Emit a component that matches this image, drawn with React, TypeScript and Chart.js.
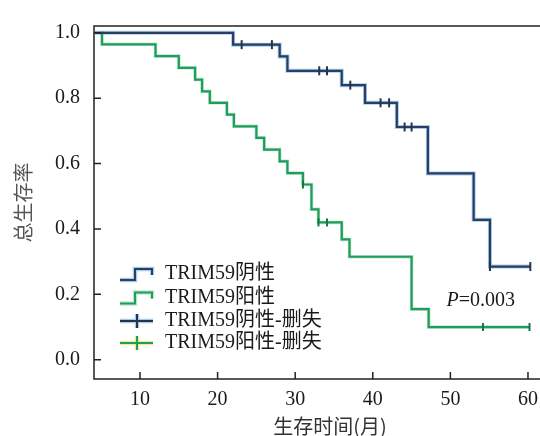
import React, { useEffect, useRef } from "react";
import { Chart, registerables } from "chart.js";

Chart.register(...registerables);

// ---- data ----
const negTimes = [4.2, 22.0, 28.0, 29.0, 36.0, 39.0, 43.1, 47.1, 53.0, 55.1, 60.3];
const negSurv = [1.0, 0.964, 0.928, 0.884, 0.84, 0.786, 0.712, 0.57, 0.428, 0.285, 0.285];

const posTimes = [5.0, 5.1, 12.0, 15.0, 17.1, 18.0, 19.0, 21.2, 22.1, 25.0, 26.0, 28.0, 29.0, 31.0, 32.1, 33.0, 36.0, 37.0, 45.0, 47.2, 60.2];
const posSurv = [1.0, 0.965, 0.929, 0.893, 0.857, 0.821, 0.786, 0.75, 0.714, 0.679, 0.643, 0.607, 0.571, 0.536, 0.46, 0.42, 0.368, 0.315, 0.155, 0.1, 0.1];

const negCensorTimes = [23.1, 27.0, 33.1, 34.1, 37.1, 41.0, 42.1, 44.1, 45.0, 55.1, 60.3];
const negCensorSurv = [0.964, 0.964, 0.884, 0.884, 0.84, 0.786, 0.786, 0.712, 0.712, 0.285, 0.285];

const posCensorTimes = [31.0, 33.0, 34.1, 54.2, 60.2];
const posCensorSurv = [0.536, 0.42, 0.42, 0.1, 0.1];

const xTicks = [10, 20, 30, 40, 50, 60];
const yTicks = [0, 0.2, 0.4, 0.6, 0.8, 1.0];
const yTickLabels = ["0.0", "0.2", "0.4", "0.6", "0.8", "1.0"];

const legendLabels = ["TRIM59阴性", "TRIM59阳性", "TRIM59阴性-删失", "TRIM59阳性-删失"];
const xTitle = "生存时间(月)";
const yTitle = "总生存率";
const pLetter = "P";
const pRest = "=0.003";
const pPos = { x: 49.5, y: 0.179 };

// ---- styles ----
const NEG = "#283f62";
const NEG_HALO = "rgba(95,160,220,0.55)";
const POS = "#1f9d5c";
const POS_HALO = "rgba(110,200,140,0.45)";
const SERIF = "'Liberation Serif', 'Times New Roman', 'Noto Sans CJK SC', serif";
const CJK = "'Noto Sans CJK SC', sans-serif";

const pts = (xs: number[], ys: number[]) => xs.map((x, i) => ({ x, y: ys[i] }));

const overlay = {
  id: "overlay",
  afterDraw(chart: any) {
    const { ctx, chartArea: a, scales } = chart;
    ctx.save();
    // frame
    ctx.strokeStyle = "#222";
    ctx.lineWidth = 1.5;
    ctx.beginPath();
    ctx.moveTo(a.left, a.bottom);
    ctx.lineTo(a.left, a.top);
    ctx.lineTo(a.right, a.top);
    ctx.lineTo(a.right, a.bottom);
    ctx.closePath();
    ctx.stroke();
    // inward ticks
    ctx.beginPath();
    for (const v of yTicks) {
      const y = scales.y.getPixelForValue(v);
      ctx.moveTo(a.left, y);
      ctx.lineTo(a.left + 7, y);
    }
    for (const v of xTicks) {
      const x = scales.x.getPixelForValue(v);
      ctx.moveTo(x, a.bottom);
      ctx.lineTo(x, a.bottom - 7);
    }
    ctx.stroke();

    // legend
    const x0 = a.left + 26;
    const tx = a.left + 71;
    const rows = [a.top + 248, a.top + 271.5, a.top + 295, a.top + 317];
    ctx.lineCap = "butt";
    const stepIcon = (yc: number, halo: string, core: string) => {
      const path = () => {
        ctx.beginPath();
        ctx.moveTo(x0, yc + 6);
        ctx.lineTo(x0 + 15, yc + 6);
        ctx.lineTo(x0 + 15, yc - 5);
        ctx.lineTo(x0 + 32, yc - 5);
        ctx.lineTo(x0 + 32, yc + 1);
      };
      path();
      ctx.strokeStyle = halo;
      ctx.lineWidth = 4.5;
      ctx.stroke();
      path();
      ctx.strokeStyle = core;
      ctx.lineWidth = 2;
      ctx.stroke();
    };
    const crossIcon = (yc: number, halo: string, core: string) => {
      const path = () => {
        ctx.beginPath();
        ctx.moveTo(x0, yc);
        ctx.lineTo(x0 + 33, yc);
        ctx.moveTo(x0 + 17, yc - 7);
        ctx.lineTo(x0 + 17, yc + 7);
      };
      path();
      ctx.strokeStyle = halo;
      ctx.lineWidth = 4.5;
      ctx.stroke();
      path();
      ctx.strokeStyle = core;
      ctx.lineWidth = 2;
      ctx.stroke();
    };
    stepIcon(rows[0], NEG_HALO, NEG);
    stepIcon(rows[1], POS_HALO, POS);
    crossIcon(rows[2], NEG_HALO, "#263446");
    crossIcon(rows[3], "rgba(230,220,80,0.6)", POS);

    ctx.fillStyle = "#1a1a1a";
    ctx.font = `20px ${SERIF}`;
    ctx.textBaseline = "middle";
    ctx.textAlign = "left";
    legendLabels.forEach((t, i) => ctx.fillText(t, tx, rows[i]));

    // p value
    const px = scales.x.getPixelForValue(pPos.x);
    const py = scales.y.getPixelForValue(pPos.y);
    ctx.font = `italic 20px ${SERIF}`;
    ctx.fillText(pLetter, px, py);
    const w = ctx.measureText(pLetter).width;
    ctx.font = `20px ${SERIF}`;
    ctx.fillText(pRest, px + w, py);
    ctx.restore();
  },
};

export default function App() {
  const ref = useRef<HTMLCanvasElement | null>(null);
  useEffect(() => {
    if (!ref.current) return;
    const chart = new Chart(ref.current, {
      type: "line",
      data: {
        datasets: [
          { label: "neg", data: pts(negTimes, negSurv), stepped: "before", borderColor: NEG, borderWidth: 2.2, pointRadius: 0, fill: false, order: 2 } as any,
          { label: "neg-halo", data: pts(negTimes, negSurv), stepped: "before", borderColor: NEG_HALO, borderWidth: 4, pointRadius: 0, fill: false, order: 6 } as any,
          { label: "pos", data: pts(posTimes, posSurv), stepped: "before", borderColor: POS, borderWidth: 2.2, pointRadius: 0, fill: false, order: 3 } as any,
          { label: "pos-halo", data: pts(posTimes, posSurv), stepped: "before", borderColor: POS_HALO, borderWidth: 3.5, pointRadius: 0, fill: false, order: 7 } as any,
          { label: "neg-censor", data: pts(negCensorTimes, negCensorSurv), showLine: false, pointStyle: "line", rotation: 90, pointRadius: 4.5, borderColor: "#263446", borderWidth: 2, order: 0 } as any,
          { label: "pos-censor", data: pts(posCensorTimes, posCensorSurv), showLine: false, pointStyle: "line", rotation: 90, pointRadius: 4, borderColor: "#17734a", borderWidth: 2, order: 1 } as any,
        ],
      },
      options: {
        animation: false,
        responsive: false,
        devicePixelRatio: 1,
        layout: { padding: { top: 20, right: 14, left: 0, bottom: 0 } },
        plugins: { legend: { display: false }, tooltip: { enabled: false } },
        scales: {
          x: {
            type: "linear",
            min: 4.072,
            max: 64.9,
            afterBuildTicks: (s: any) => {
              s.ticks = xTicks.map((v) => ({ value: v }));
            },
            afterFit: (s: any) => {
              s.height = 57;
            },
            grid: { display: false, drawTicks: false },
            border: { display: false },
            ticks: { color: "#1a1a1a", font: { family: SERIF, size: 20 }, padding: 9, autoSkip: false, maxRotation: 0, callback: (v: any) => String(v) },
            title: { display: true, text: xTitle, color: "#333", font: { family: CJK, size: 20, lineHeight: 1 }, padding: { top: 0, bottom: 0 } },
          },
          y: {
            type: "linear",
            min: -0.059,
            max: 1.021,
            afterBuildTicks: (s: any) => {
              s.ticks = yTicks.map((v) => ({ value: v }));
            },
            afterFit: (s: any) => {
              s.width = 94;
            },
            grid: { display: false, drawTicks: false },
            border: { display: false },
            ticks: {
              color: "#1a1a1a",
              font: { family: SERIF, size: 20 },
              padding: 14,
              callback: (v: any) => yTickLabels[yTicks.indexOf(v)] ?? "",
            },
            title: { display: true, text: yTitle, color: "#555", font: { family: CJK, size: 20, lineHeight: 1 }, padding: { top: 13, bottom: 0 } },
          },
        },
      } as any,
      plugins: [overlay],
    });
    return () => chart.destroy();
  }, []);
  return (
    <div style={{ position: "absolute", left: 0, top: 0, width: 540, height: 436, overflow: "hidden", background: "#fff" }}>
      <canvas ref={ref} width={580} height={436} style={{ display: "block" }} />
    </div>
  );
}
